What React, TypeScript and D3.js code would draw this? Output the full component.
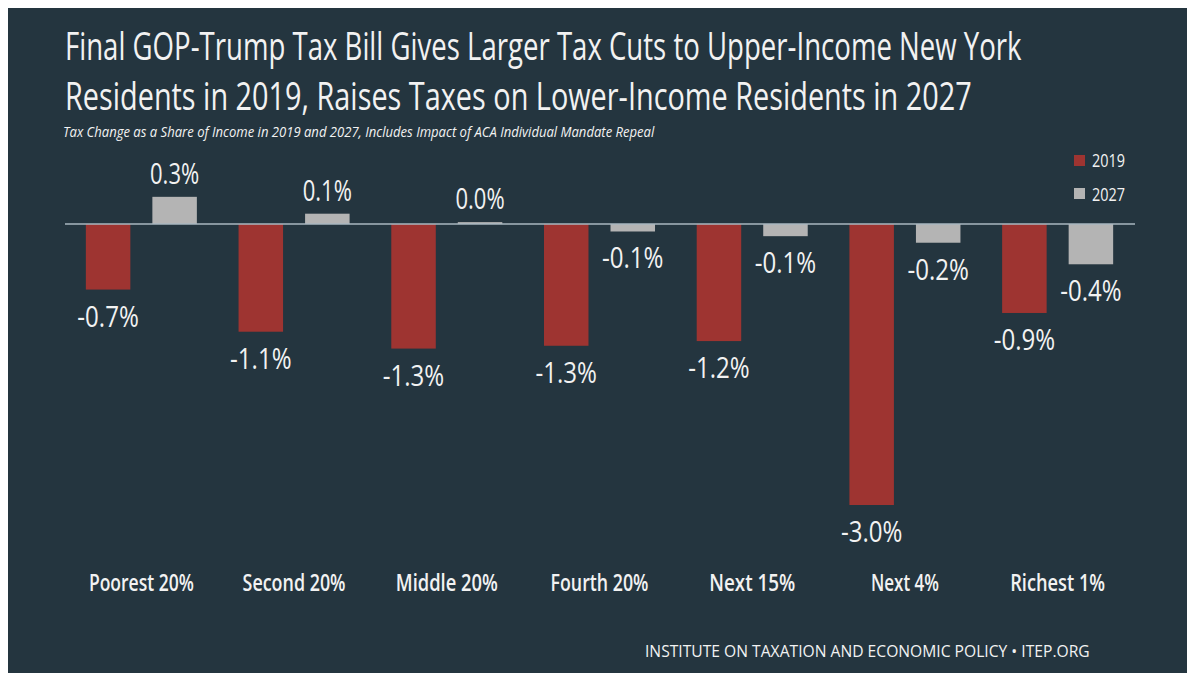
import React, { useLayoutEffect, useRef, useState } from "react";
import * as d3 from "d3";

const categories = ["Poorest 20%", "Second 20%", "Middle 20%", "Fourth 20%", "Next 15%", "Next 4%", "Richest 1%"];
const seriesNames = ["2019", "2027"];
const values2019 = [-0.7, -1.15, -1.33, -1.3, -1.25, -3.0, -0.95];
const values2027 = [0.29, 0.11, 0.02, -0.08, -0.13, -0.2, -0.43];
const labels2019 = ["-0.7%", "-1.1%", "-1.3%", "-1.3%", "-1.2%", "-3.0%", "-0.9%"];
const labels2027 = ["0.3%", "0.1%", "0.0%", "-0.1%", "-0.1%", "-0.2%", "-0.4%"];
const seriesColors = ["#9e3431", "#b4b4b4"];

const titleLines = [
  "Final GOP-Trump Tax Bill Gives Larger Tax Cuts to Upper-Income New York",
  "Residents in 2019, Raises Taxes on Lower-Income Residents in 2027",
];
const subtitle = "Tax Change as a Share of Income in 2019 and 2027, Includes Impact of ACA Individual Mandate Repeal";
const footer = "INSTITUTE ON TAXATION AND ECONOMIC POLICY \u2022 ITEP.ORG";

// layout: rendered widths of the condensed category labels
const catLabelWidths = [105, 103, 102, 98, 86, 68, 95];

const W = 1187;
const H = 673;
const BG = "#24353f";
const TEXT = "#f2f2f2";
const FONT = "'Open Sans', 'DejaVu Sans', sans-serif";

type FitProps = {
  x: number;
  y: number;
  width: number;
  anchor?: "start" | "middle" | "end";
  children: string;
  [k: string]: any;
};

function FitText({ x, y, width, anchor = "start", children, ...rest }: FitProps) {
  const ref = useRef<SVGTextElement>(null);
  const [s, setS] = useState(1);
  useLayoutEffect(() => {
    if (ref.current) {
      const len = ref.current.getComputedTextLength();
      if (len > 0) setS(width / len);
    }
  }, [width, children]);
  return (
    <text
      ref={ref}
      x={0}
      y={0}
      transform={`translate(${x},${y}) scale(${s},1)`}
      textAnchor={anchor}
      fill={TEXT}
      fontFamily={FONT}
      {...rest}
    >
      {children}
    </text>
  );
}

export default function App() {
  const x0 = d3.scaleBand<string>().domain(categories).range([65, 1134]).paddingInner(0.273).paddingOuter(0.1365);
  const x1 = d3.scaleBand<string>().domain(seriesNames).range([0, x0.bandwidth()]).paddingInner(0.331);
  const y = d3.scaleLinear().domain([-3, 0]).range([505, 224]);
  const series = [values2019, values2027];
  const seriesLabels = [labels2019, labels2027];

  return (
    <svg
      width={W - 8}
      height={H - 8}
      style={{ position: "absolute", left: 8, top: 8, display: "block" }}
      viewBox={`8 8 ${W - 8} ${H - 8}`}
    >
      <rect x={8} y={8} width={W} height={H} fill={BG} />
      <FitText x={65} y={60} width={957} fontSize={39}>{titleLines[0]}</FitText>
      <FitText x={65} y={110} width={907} fontSize={39}>{titleLines[1]}</FitText>
      <FitText x={63} y={137} width={592} fontSize={14} fontStyle="italic">{subtitle}</FitText>
      {seriesNames.map((s, i) => (
        <g key={s}>
          <rect x={1074} y={155 + i * 33} width={11} height={11} fill={seriesColors[i]} />
          <FitText x={1092} y={167 + i * 34} width={33} fontSize={19}>{s}</FitText>
        </g>
      ))}
      {categories.map((c, ci) => {
        const bx = x0(c) as number;
        return (
          <g key={c}>
            {seriesNames.map((s, si) => {
              const v = series[si][ci];
              const top = Math.min(y(v), y(0));
              const h = Math.abs(y(v) - y(0));
              const left = bx + (x1(s) as number);
              const cx = left + x1.bandwidth() / 2;
              const lab = seriesLabels[si][ci];
              return (
                <g key={s}>
                  <rect x={left} y={top} width={x1.bandwidth()} height={h} fill={seriesColors[si]} />
                  <FitText
                    x={cx}
                    y={v >= 0 ? y(v) - 13 : y(v) + 37}
                    anchor="middle"
                    width={lab.length * 12.3}
                    fontSize={29}
                  >
                    {lab}
                  </FitText>
                </g>
              );
            })}
            <FitText
              x={bx + x0.bandwidth() / 2}
              y={591}
              anchor="middle"
              width={catLabelWidths[ci]}
              fontSize={24}
              fontWeight={600}
            >
              {c}
            </FitText>
          </g>
        );
      })}
      <line x1={65} x2={1135} y1={y(0)} y2={y(0)} stroke="#a8b7c0" strokeWidth={1.5} />
      <FitText x={645} y={657} width={445} fontSize={17}>{footer}</FitText>
    </svg>
  );
}
